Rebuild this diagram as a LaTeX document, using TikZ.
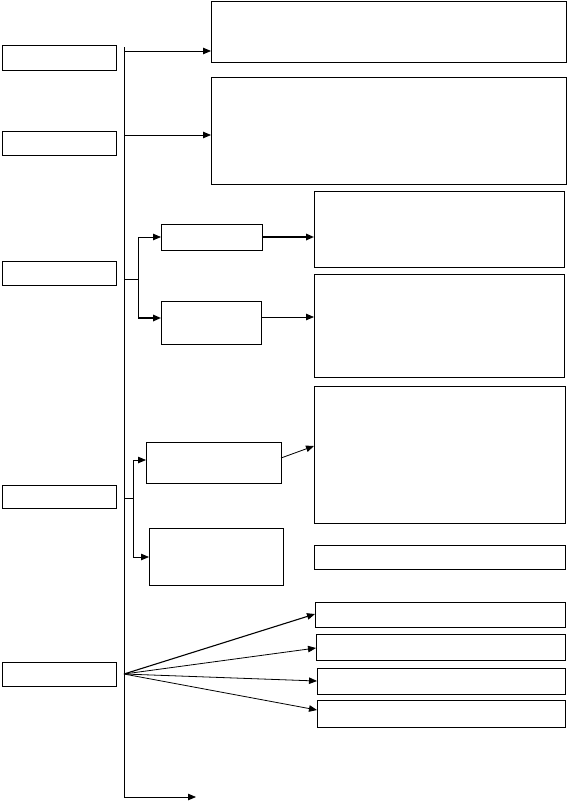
\documentclass[tikz,border=0pt]{standalone}
\usetikzlibrary{arrows.meta}
\begin{document}
\begin{tikzpicture}[x=1pt,y=-1pt,
  box/.style={draw=black, line width=1pt, inner sep=0pt, outer sep=0pt, fill=white},
  arr/.style={line width=0.8pt, -{Triangle[length=8pt,width=6.5pt]}},
  tarr/.style={line width=1.6pt, -{Triangle[length=8pt,width=6.5pt]}},
  ln/.style={line width=0.9pt}]
\useasboundingbox (0,0) rectangle (568,803);
% left column boxes
\node[box, minimum width=114pt, minimum height=25pt] (L1) at (59,57.5) {};
\node[box, minimum width=114pt, minimum height=24pt] (L2) at (59,143) {};
\node[box, minimum width=114pt, minimum height=24pt] (L3) at (59,273) {};
\node[box, minimum width=114pt, minimum height=23pt] (L4) at (59,496.5) {};
\node[box, minimum width=114pt, minimum height=24pt] (L5) at (59,674) {};
% right boxes
\node[box, minimum width=355pt, minimum height=61pt] (R1) at (388.5,31.5) {};
\node[box, minimum width=355pt, minimum height=107pt] (R2) at (388.5,130.5) {};
\node[box, minimum width=250pt, minimum height=76pt] (R3) at (439,229) {};
\node[box, minimum width=250pt, minimum height=103pt] (R4) at (439,325.5) {};
\node[box, minimum width=251pt, minimum height=137pt] (R5) at (439.5,454.5) {};
\node[box, minimum width=251pt, minimum height=24pt] (R6) at (439.5,557) {};
\node[box, minimum width=250pt, minimum height=25pt] (R7) at (440,614.5) {};
\node[box, minimum width=249pt, minimum height=26pt] (R8) at (440.5,647) {};
\node[box, minimum width=248pt, minimum height=26pt] (R9) at (441,681) {};
\node[box, minimum width=248pt, minimum height=27pt] (R10) at (441,713.5) {};
% middle boxes
\node[box, minimum width=101pt, minimum height=26pt] (M1) at (211.5,237) {};
\node[box, minimum width=100pt, minimum height=43pt] (M2) at (211,322.5) {};
\node[box, minimum width=135pt, minimum height=41pt] (M3) at (213.5,462.5) {};
\node[box, minimum width=134pt, minimum height=57pt] (M4) at (216,556.5) {};
% trunk
\coordinate (Ttop) at (124,47);
\coordinate (Tbot) at (124,797);
\coordinate (Tend) at (196,797);
\draw[ln] (Ttop) -- (Tbot);
\draw[arr] (Tbot) -- (Tend);
% to R1, R2
\coordinate (T1) at (124,51);
\coordinate (T2) at (124,135);
\draw[arr] (T1) -- (T1 -| R1.west);
\draw[arr] (T2) -- (T2 -| R2.west);
% branch 3
\coordinate (T3) at (124,279);
\coordinate (B3) at (138,279);
\coordinate (B3a) at (138,237);
\coordinate (B3b) at (138,318);
\draw[ln] (T3) -- (B3);
\draw[ln] (B3a) -- (B3b);
\draw[arr] (B3a) -- (M1.west);
\draw[tarr] (B3b) -- (B3b -| M2.west);
\draw[tarr] (M1.east) -- (M1.east -| R3.west);
\draw[arr] (M2.east |- 0,317) -- (R4.west |- 0,317);
% branch 4
\coordinate (T4) at (124,498);
\coordinate (B4) at (133,498);
\coordinate (B4a) at (133,460);
\coordinate (B4b) at (133,557);
\draw[ln] (T4) -- (B4);
\draw[ln] (B4a) -- (B4b);
\draw[arr] (B4a) -- (B4a -| M3.west);
\draw[arr] (B4b) -- (B4b -| M4.west);
\coordinate (M3o) at (281,458);
\coordinate (R5i) at (314,446);
\draw[arr] (M3o) -- (R5i);
% fan
\coordinate (F) at (124,674);
\draw[tarr, line width=1.1pt] (F) -- (R7.west |- 0,614);
\draw[arr] (F) -- (R8.west |- 0,648);
\draw[arr] (F) -- (R9.west |- 0,681);
\draw[arr] (F) -- (R10.west |- 0,710);
\end{tikzpicture}
\end{document}
